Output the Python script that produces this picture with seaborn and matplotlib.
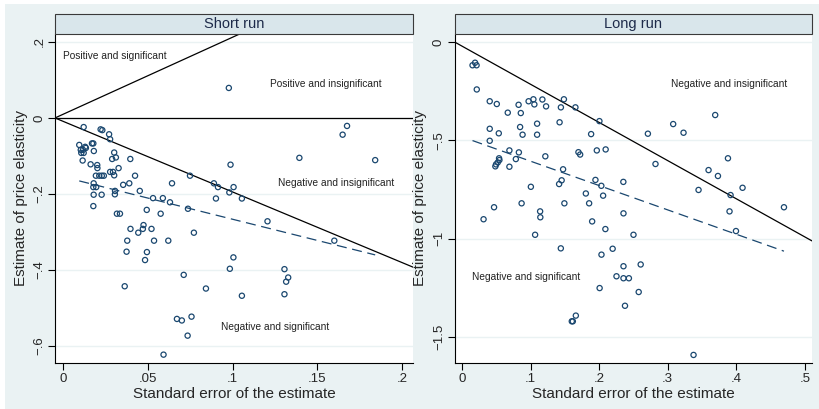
import numpy as np
import pandas as pd
import matplotlib
matplotlib.use("Agg")
import matplotlib.pyplot as plt
import seaborn as sns
from matplotlib.patches import Rectangle

# ---------------- data ----------------
short_se = [0.0122, 0.0222, 0.0232, 0.0272, 0.0278, 0.0096, 0.0171, 0.0179, 0.0131, 0.0135,
            0.0105, 0.0118, 0.0108, 0.0122, 0.0182, 0.0302, 0.0312, 0.0290, 0.0397, 0.0116,
            0.0163, 0.0202, 0.0203, 0.0328, 0.0278, 0.0295, 0.0302, 0.0194, 0.0214, 0.0229,
            0.0241, 0.0425, 0.0749, 0.0181, 0.0391, 0.0355, 0.0643, 0.0179, 0.0196, 0.0307,
            0.0453, 0.0306, 0.0181, 0.0228, 0.0531, 0.0589, 0.0631, 0.0179, 0.0494, 0.0737,
            0.0318, 0.0336, 0.0576, 0.0398, 0.0475, 0.0471, 0.0444, 0.0522, 0.0772, 0.0379,
            0.0537, 0.0621, 0.0375, 0.0495, 0.0484, 0.0364, 0.0712, 0.0843, 0.0984, 0.1005,
            0.1055, 0.0672, 0.0701, 0.0758, 0.0735, 0.0593, 0.0890, 0.0914, 0.0981, 0.1006,
            0.0902, 0.1055, 0.0988, 0.0978, 0.1394, 0.1649, 0.1675, 0.1841, 0.1206, 0.1600,
            0.1306, 0.1328, 0.1316, 0.1306]
short_est = [-0.024, -0.030, -0.032, -0.043, -0.056, -0.071, -0.067, -0.067, -0.076, -0.079,
             -0.084, -0.084, -0.092, -0.092, -0.087, -0.091, -0.104, -0.108, -0.108, -0.112,
             -0.122, -0.124, -0.132, -0.132, -0.142, -0.142, -0.151, -0.152, -0.152, -0.152,
             -0.152, -0.152, -0.152, -0.172, -0.172, -0.176, -0.172, -0.182, -0.182, -0.192,
             -0.192, -0.201, -0.202, -0.202, -0.211, -0.211, -0.222, -0.232, -0.242, -0.239,
             -0.252, -0.252, -0.252, -0.292, -0.282, -0.292, -0.302, -0.292, -0.302, -0.323,
             -0.323, -0.323, -0.352, -0.353, -0.374, -0.443, -0.413, -0.449, -0.397, -0.367,
             -0.468, -0.529, -0.533, -0.523, -0.573, -0.623, -0.172, -0.182, -0.196, -0.182,
             -0.212, -0.212, -0.123, 0.079, -0.105, -0.044, -0.021, -0.111, -0.272, -0.323,
             -0.398, -0.420, -0.431, -0.464]

long_se = [0.0153, 0.0190, 0.0212, 0.0215, 0.0404, 0.0507, 0.0667, 0.0825, 0.0857, 0.0971,
           0.1041, 0.1055, 0.1172, 0.1226, 0.1486, 0.1442, 0.1654, 0.2004, 0.1423, 0.1095,
           0.0847, 0.0404, 0.0536, 0.0883, 0.1095, 0.1883, 0.0404, 0.0691, 0.0829, 0.0785,
           0.0540, 0.0545, 0.0521, 0.0496, 0.0486, 0.0691, 0.1215, 0.1698, 0.1723, 0.1966,
           0.2095, 0.1474, 0.2711, 0.3080, 0.3231, 0.3693, 0.2822, 0.3879, 0.3596, 0.3733,
           0.3450, 0.4092, 0.3917, 0.1004, 0.1416, 0.1453, 0.1806, 0.1946, 0.2032, 0.2058,
           0.2353, 0.0467, 0.0314, 0.0869, 0.1139, 0.1142, 0.1493, 0.1854, 0.1898, 0.2091,
           0.2355, 0.2501, 0.1066, 0.1441, 0.2034, 0.2197, 0.2355, 0.2253, 0.2355, 0.2434,
           0.2007, 0.2606, 0.2577, 0.2377, 0.1660, 0.1601, 0.1616, 0.3377, 0.3902, 0.3996,
           0.4696]
long_est = [-0.118, -0.105, -0.118, -0.241, -0.301, -0.315, -0.359, -0.319, -0.361, -0.301,
            -0.291, -0.317, -0.292, -0.327, -0.291, -0.332, -0.332, -0.402, -0.408, -0.415,
            -0.432, -0.441, -0.464, -0.471, -0.471, -0.468, -0.502, -0.551, -0.561, -0.595,
            -0.591, -0.600, -0.612, -0.622, -0.632, -0.634, -0.581, -0.560, -0.572, -0.551,
            -0.546, -0.647, -0.466, -0.417, -0.461, -0.371, -0.620, -0.591, -0.651, -0.681,
            -0.752, -0.741, -0.778, -0.736, -0.722, -0.703, -0.770, -0.701, -0.731, -0.781,
            -0.711, -0.840, -0.901, -0.820, -0.861, -0.891, -0.820, -0.820, -0.912, -0.951,
            -0.871, -0.980, -0.980, -1.049, -1.081, -1.051, -1.140, -1.191, -1.201, -1.201,
            -1.251, -1.131, -1.271, -1.341, -1.391, -1.420, -1.420, -1.591, -0.861, -0.961,
            -0.840]

panel_titles = ["Short run", "Long run"]
x_ticks = [[0, 0.05, 0.1, 0.15, 0.2], [0, 0.1, 0.2, 0.3, 0.4, 0.5]]
x_ticklabels = [["0", ".05", ".1", ".15", ".2"], ["0", ".1", ".2", ".3", ".4", ".5"]]
y_ticks = [[0.2, 0, -0.2, -0.4, -0.6], [0, -0.5, -1, -1.5]]
y_ticklabels = [[".2", "0", "\u2212.2", "\u2212.4", "\u2212.6"], ["0", "\u2212.5", "\u22121", "\u22121.5"]]
x_limits = [(-0.0047, 0.2064), (-0.0107, 0.5105)]
y_limits = [(-0.645, 0.221), (-1.632, 0.041)]

# significance boundary slopes (solid lines through the origin)
boundary_slopes = [[2.03, 0.0, -1.86], [-1.94]]
# fitted (dashed) line: intercept, slope
fit_intercepts = [-0.155, -0.482]
fit_slopes = [-1.116, -1.238]

# region annotations: (x, y, text)
annotations = [
    [(0.0, 0.162, "Positive and significant"),
     (0.1218, 0.089, "Positive and insignificant"),
     (0.127, -0.172, "Negative and insignificant"),
     (0.093, -0.55, "Negative and significant")],
    [(0.3047, -0.215, "Negative and insignificant"),
     (0.0146, -1.193, "Negative and significant")],
]

# ---------------- style ----------------
sns.set_style("white")
plt.rcParams['font.family'] = ['Liberation Sans', 'DejaVu Sans']

BG = "#EAF2F3"
STRIP = "#D9E6EB"
NAVY = "#1a476f"
GRID = "#EAF2F3"

fig = plt.figure(figsize=(8.19, 4.09), dpi=100)
fig.patch.set_facecolor("white")
fig.add_artist(Rectangle((5 / 819, 0), 1 - 5 / 819, 1 - 4 / 409, transform=fig.transFigure,
                         facecolor=BG, edgecolor="none", zorder=-10))

axes_rects = [
    [55 / 819, 46 / 409, (413 - 55) / 819, (363 - 34) / 409],
    [454.7 / 819, 46 / 409, (812 - 454.7) / 819, (363 - 34) / 409],
]

datasets = [(short_se, short_est), (long_se, long_est)]

for i in range(2):
    ax = fig.add_axes(axes_rects[i])
    ax.set_facecolor("white")
    se, est = datasets[i]
    df = pd.DataFrame({"se": se, "est": est})

    # grid lines
    for yt in y_ticks[i]:
        ax.axhline(yt, color=GRID, lw=1.0, zorder=0)

    xlo, xhi = x_limits[i]
    # boundary lines from left edge of plot region
    for s in boundary_slopes[i]:
        xs = np.array([xlo, xhi])
        ys = s * (xs - xlo)
        sns.lineplot(x=xs, y=ys, ax=ax, color="black", lw=0.9, zorder=2)

    # fitted dashed line
    xf = np.array([min(se), max(se)])
    yf = fit_intercepts[i] + fit_slopes[i] * xf
    sns.lineplot(x=xf, y=yf, ax=ax, color=NAVY, lw=0.9, zorder=2, dashes=False,
                 linestyle=(0, (8, 4.5)))

    sns.scatterplot(data=df, x="se", y="est", ax=ax, marker="o", s=14,
                    facecolors="none", edgecolor=NAVY, linewidth=0.9, zorder=3)

    for (tx, ty, tt) in annotations[i]:
        ax.text(tx, ty, tt, fontsize=7.3, color="#222222", ha="left", va="center")

    ax.set_xlim(*x_limits[i])
    ax.set_ylim(*y_limits[i])
    ax.set_xticks(x_ticks[i])
    ax.set_xticklabels(x_ticklabels[i], fontsize=9.5)
    ax.set_yticks(y_ticks[i])
    ax.set_yticklabels(y_ticklabels[i], fontsize=9.5, rotation=90, va="center")
    ax.tick_params(axis="both", direction="out", length=5, width=0.8, color="black",
                   pad=2, left=True, bottom=True)
    ax.set_xlabel("Standard error of the estimate", fontsize=11, labelpad=2)
    ax.set_ylabel("Estimate of price elasticity", fontsize=11, labelpad=4)
    for sp in ["top", "right"]:
        ax.spines[sp].set_visible(False)
    for sp in ["left", "bottom"]:
        ax.spines[sp].set_color("black")
        ax.spines[sp].set_linewidth(0.8)

    # title strip
    strip_h = 20 / 329
    ax.add_patch(Rectangle((0, 1), 1, strip_h, transform=ax.transAxes, facecolor=STRIP,
                           edgecolor="#3a3a3a", lw=0.8, clip_on=False, zorder=5))
    ax.text(0.5, 1 + strip_h / 2, panel_titles[i], transform=ax.transAxes, ha="center",
            va="center", fontsize=10.5, color="#1e2b4a", zorder=6)

fig.savefig("out.png", dpi=100, facecolor=fig.get_facecolor())
